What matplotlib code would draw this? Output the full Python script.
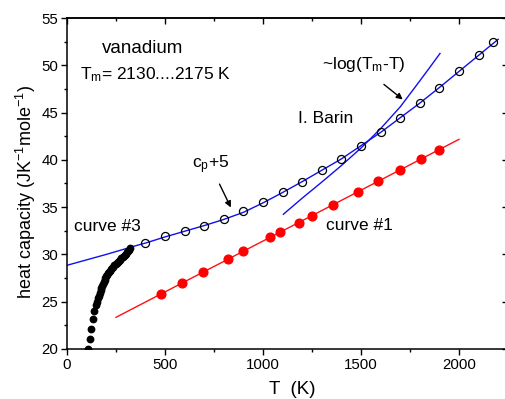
import matplotlib
matplotlib.use("Agg")
import matplotlib.pyplot as plt
from matplotlib.ticker import MultipleLocator


# curve #3: low temperature points (black dots)
curve3_T = [109, 116, 124, 132, 140, 147, 153, 158, 163, 168, 172, 176, 180, 184,
            188, 192, 196, 200, 204, 208, 213, 218, 224, 230, 236, 242, 248, 254,
            260, 266, 272, 278, 284, 290, 296, 302, 307, 312, 316, 320]
curve3_C = [19.95, 21.05, 22.1, 23.15, 24.05, 24.6, 25.0, 25.35, 25.65, 25.95, 26.2,
            26.45, 26.7, 26.9, 27.1, 27.3, 27.5, 27.68, 27.85, 28.0, 28.15, 28.3,
            28.45, 28.6, 28.72, 28.85, 28.97, 29.08, 29.2, 29.32, 29.45, 29.57,
            29.7, 29.82, 29.95, 30.08, 30.22, 30.36, 30.5, 30.65]

# I. Barin c_p + 5 (open circles) and the fitted blue line
barin_T = [400, 500, 600, 700, 800, 900, 1000, 1100, 1200, 1300, 1400, 1500,
           1600, 1700, 1800, 1900, 2000, 2100, 2175]
barin_C = [31.25, 31.95, 32.5, 33.05, 33.7, 34.55, 35.55, 36.6, 37.7, 38.9, 40.1,
           41.5, 42.9, 44.45, 46.0, 47.65, 49.35, 51.05, 52.45]
fit_T = [0, 66, 200, 364, 400, 500, 600, 700, 800, 900, 1000, 1100, 1200, 1300,
         1400, 1500, 1600, 1700, 1800, 1900, 2000, 2100, 2200]
fit_C = [28.85, 29.23, 30.0, 31.0, 31.2, 31.85, 32.45, 33.05, 33.7, 34.45, 35.45,
         36.55, 37.7, 38.9, 40.1, 41.5, 42.9, 44.45, 46.0, 47.65, 49.35, 51.05, 52.75]

# ~log(Tm - T) curve
log_T = [1104, 1200, 1300, 1400, 1500, 1600, 1700, 1800, 1850, 1903]
log_C = [34.25, 35.95, 37.65, 39.4, 41.25, 43.3, 45.6, 48.35, 49.75, 51.25]

# curve #1 (red dots) and its straight line
curve1_T = [480, 587, 695, 823, 896, 1036, 1087, 1185, 1248, 1356, 1486, 1586,
            1700, 1804, 1898]
curve1_C = [25.82, 27.01, 28.17, 29.55, 30.33, 31.81, 32.34, 33.35, 34.1, 35.25,
            36.65, 37.72, 38.93, 40.09, 41.07]
line1_T = [250, 2000]
line1_C = [23.35, 42.17]


def main():
    plt.rcParams['font.family'] = ['Liberation Sans', 'DejaVu Sans']
    plt.rcParams['mathtext.fontset'] = 'custom'
    plt.rcParams['mathtext.rm'] = 'Liberation Sans'
    plt.rcParams['mathtext.it'] = 'Liberation Sans:italic'

    fig = plt.figure(figsize=(5.06, 3.99), dpi=100)
    ax = fig.add_axes([67 / 506, 1 - 349 / 399, 441 / 506, 331 / 399])

    ax.plot(fit_T, fit_C, color='#1010ee', lw=1.0, zorder=2)
    ax.plot(log_T, log_C, color='#1010ee', lw=1.0, zorder=2)
    ax.plot(barin_T, barin_C, 'o', mfc='none', mec='black', mew=0.9, ms=5.8, zorder=3)
    ax.plot(line1_T, line1_C, color='#ff1010', lw=1.0, zorder=2)
    ax.plot(curve1_T, curve1_C, 'o', color='#ff0000', ms=6.3, zorder=3)
    ax.plot(curve3_T, curve3_C, 'o', color='black', ms=4.6, zorder=3)

    ax.set_xlim(0, 2250)
    ax.set_ylim(20, 55)
    ax.xaxis.set_major_locator(MultipleLocator(500))
    ax.xaxis.set_minor_locator(MultipleLocator(250))
    ax.yaxis.set_major_locator(MultipleLocator(5))
    ax.yaxis.set_minor_locator(MultipleLocator(2.5))
    ax.tick_params(which='major', direction='out', length=4.3, width=1.0, labelsize=10.8, pad=2)
    ax.tick_params(which='minor', direction='out', length=2.2, width=1.0)
    for s in ax.spines.values():
        s.set_linewidth(1.1)

    # mirrored ticks pointing inwards on top and right
    top = ax.secondary_xaxis('top')
    top.xaxis.set_major_locator(MultipleLocator(500))
    top.xaxis.set_minor_locator(MultipleLocator(250))
    top.tick_params(which='major', direction='in', length=4.3, width=1.0, labeltop=False)
    top.tick_params(which='minor', direction='in', length=2.2, width=1.0)
    top.spines['top'].set_linewidth(1.1)
    right = ax.secondary_yaxis('right')
    right.yaxis.set_major_locator(MultipleLocator(5))
    right.yaxis.set_minor_locator(MultipleLocator(2.5))
    right.tick_params(which='major', direction='in', length=4.3, width=1.0, labelright=False)
    right.tick_params(which='minor', direction='in', length=2.2, width=1.0)

    ax.set_xlabel('T  (K)', fontsize=13.5)
    ax.xaxis.set_label_coords((292 - 67) / 441, (349 - 381) / 331)
    ax.set_ylabel('heat capacity (JK$^{-1}$mole$^{-1}$)', fontsize=13)
    ax.yaxis.set_label_coords((38 - 67) / 441, (349 - 192) / 331)

    ax.text(179, 51.8, 'vanadium', fontsize=13.5, va='center')
    ax.text(66, 49.0, 'T$_{\\rm m}$= 2130....2175 K', fontsize=12.5, va='center')
    ax.text(1300, 50.1, '~log(T$_{\\rm m}$-T)', fontsize=12.5, va='center')
    ax.text(1179, 44.4, 'I. Barin', fontsize=12.5, va='center')
    ax.text(36, 33.0, 'curve #3', fontsize=12.5, va='center')
    ax.text(1321, 33.05, 'curve #1', fontsize=12.5, va='center')
    ax.text(638, 39.5, 'c$_{\\rm p}$+5', fontsize=12.5, va='center')

    arrow = dict(arrowstyle='-|>', color='black', lw=1.0, mutation_scale=9)
    ax.annotate('', xy=(842, 34.7), xytext=(772, 37.7), arrowprops=arrow)
    ax.annotate('', xy=(1724, 46.2), xytext=(1606, 48.16), arrowprops=arrow)

    fig.savefig('out.png', dpi=100)


if __name__ == "__main__":
    main()
